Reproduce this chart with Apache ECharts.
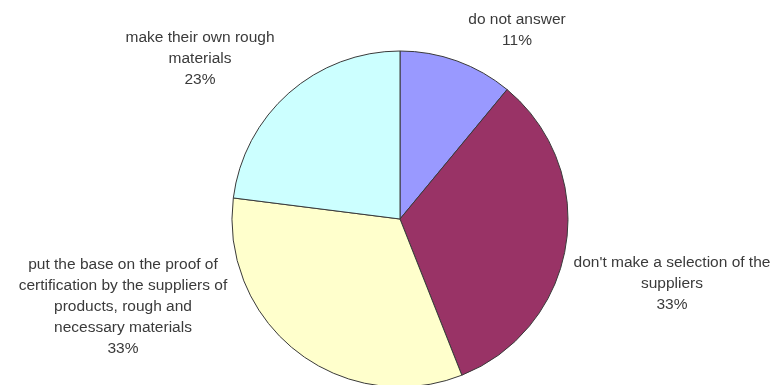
<!DOCTYPE html>
<html>
<head>
<meta charset="utf-8">
<script src="https://cdn.jsdelivr.net/npm/echarts@6/dist/echarts.min.js"></script>
<style>html,body{margin:0;padding:0;background:#fff}#c{width:774px;height:385px}</style>
</head>
<body>
<div id="c"></div>
<script>
var categories = [
  "do not answer",
  "don't make a selection of the\nsuppliers",
  "put the base on the proof of\ncertification by the suppliers of\nproducts, rough and\nnecessary materials",
  "make their own rough\nmaterials"
];
var shares = [11, 33, 33, 23];
var sliceColors = ["#9999FF", "#993366", "#FFFFCC", "#CCFFFF"];
var labelSpots = [[517, 9], [672, 252], [123, 254], [200, 27]];

var chart = echarts.init(document.getElementById('c'));
chart.setOption({
  animation: false,
  backgroundColor: '#ffffff',
  series: [{
    type: 'pie',
    center: [400, 219],
    radius: 168,
    startAngle: 90,
    clockwise: true,
    percentPrecision: 0,
    avoidLabelOverlap: false,
    silent: true,
    itemStyle: { borderColor: '#3a3a3a', borderWidth: 1 },
    label: {
      show: true,
      position: 'outside',
      formatter: '{b}\n{d}%',
      fontFamily: 'Liberation Sans, Arial, sans-serif',
      fontSize: 15.5,
      lineHeight: 21,
      color: '#3a3a3a',
      align: 'center'
    },
    labelLine: { show: false },
    labelLayout: function (p) {
      var s = labelSpots[p.dataIndex];
      return { x: s[0], y: s[1], align: 'center', verticalAlign: 'top' };
    },
    emphasis: { disabled: true },
    data: categories.map(function (c, i) {
      return { name: c, value: shares[i], itemStyle: { color: sliceColors[i] } };
    })
  }]
});
</script>
</body>
</html>
